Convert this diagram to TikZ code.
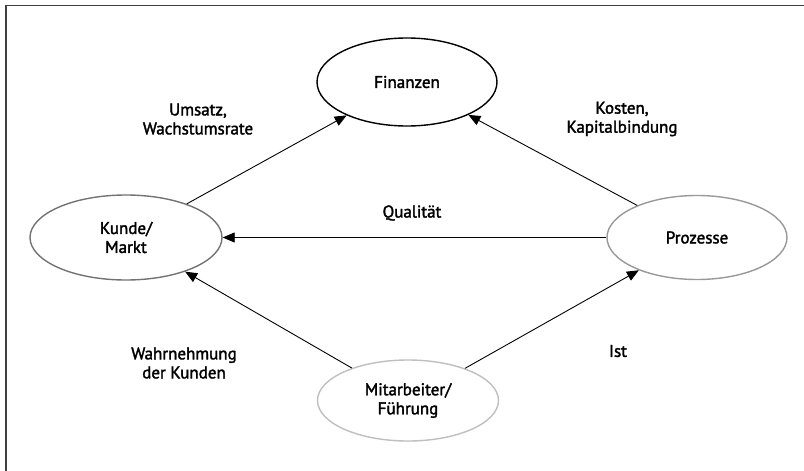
\documentclass[tikz,border=0pt]{standalone}
\usepackage{fontspec}
\setmainfont{PT Sans}[FakeBold=2]
\usetikzlibrary{shapes.geometric,arrows.meta}
\tikzset{
  area/.style={ellipse, draw, line width=1.4pt, inner sep=0pt, align=center,
               font=\fontsize{17}{19}\selectfont, fill=white},
  arr/.style={-{Triangle[length=12pt,width=10pt]}, line width=0.9pt, black},
  lbl/.style={align=center, font=\fontsize{17}{19}\selectfont, inner sep=0pt}
}
\begin{document}
\begin{tikzpicture}[x=1pt,y=-1pt]
  \useasboundingbox (0,0) rectangle (804,471);
  % frame edges
  \draw[black!75, line width=1.5pt] (6,471) -- (6,5.5) -- (804,5.5);

  % areas
  \node[area, draw=black, minimum width=180pt, minimum height=88pt] (fin) at (407,82) {Finanzen};
  \node[area, draw=black!55, minimum width=192pt, minimum height=85pt] (kun) at (126,237.5) {Kunde/\\Markt};
  \node[area, draw=black!40, minimum width=180pt, minimum height=84pt] (pro) at (697,237.5) {Prozesse};
  \node[area, draw=black!25, minimum width=181pt, minimum height=81pt] (mit) at (408,400.5) {Mitarbeiter/\\Führung};

  % relations
  \draw[arr] (kun) -- (fin);
  \draw[arr] (pro) -- (fin);
  \draw[arr] (pro.west) -- (kun.east);
  \draw[arr] (mit) -- (kun);
  \draw[arr] (mit) -- (pro);

  % labels
  \node[lbl] (l1) at (198,119) {Umsatz,\\Wachstumsrate};
  \node[lbl] (l2) at (622,119) {Kosten,\\Kapitalbindung};
  \node[lbl] (l3) at (412,213) {Qualität};
  \node[lbl] (l4) at (184,363) {Wahrnehmung\\der Kunden};
  \node[lbl] (l5) at (618,351) {Ist};
\end{tikzpicture}
\end{document}
